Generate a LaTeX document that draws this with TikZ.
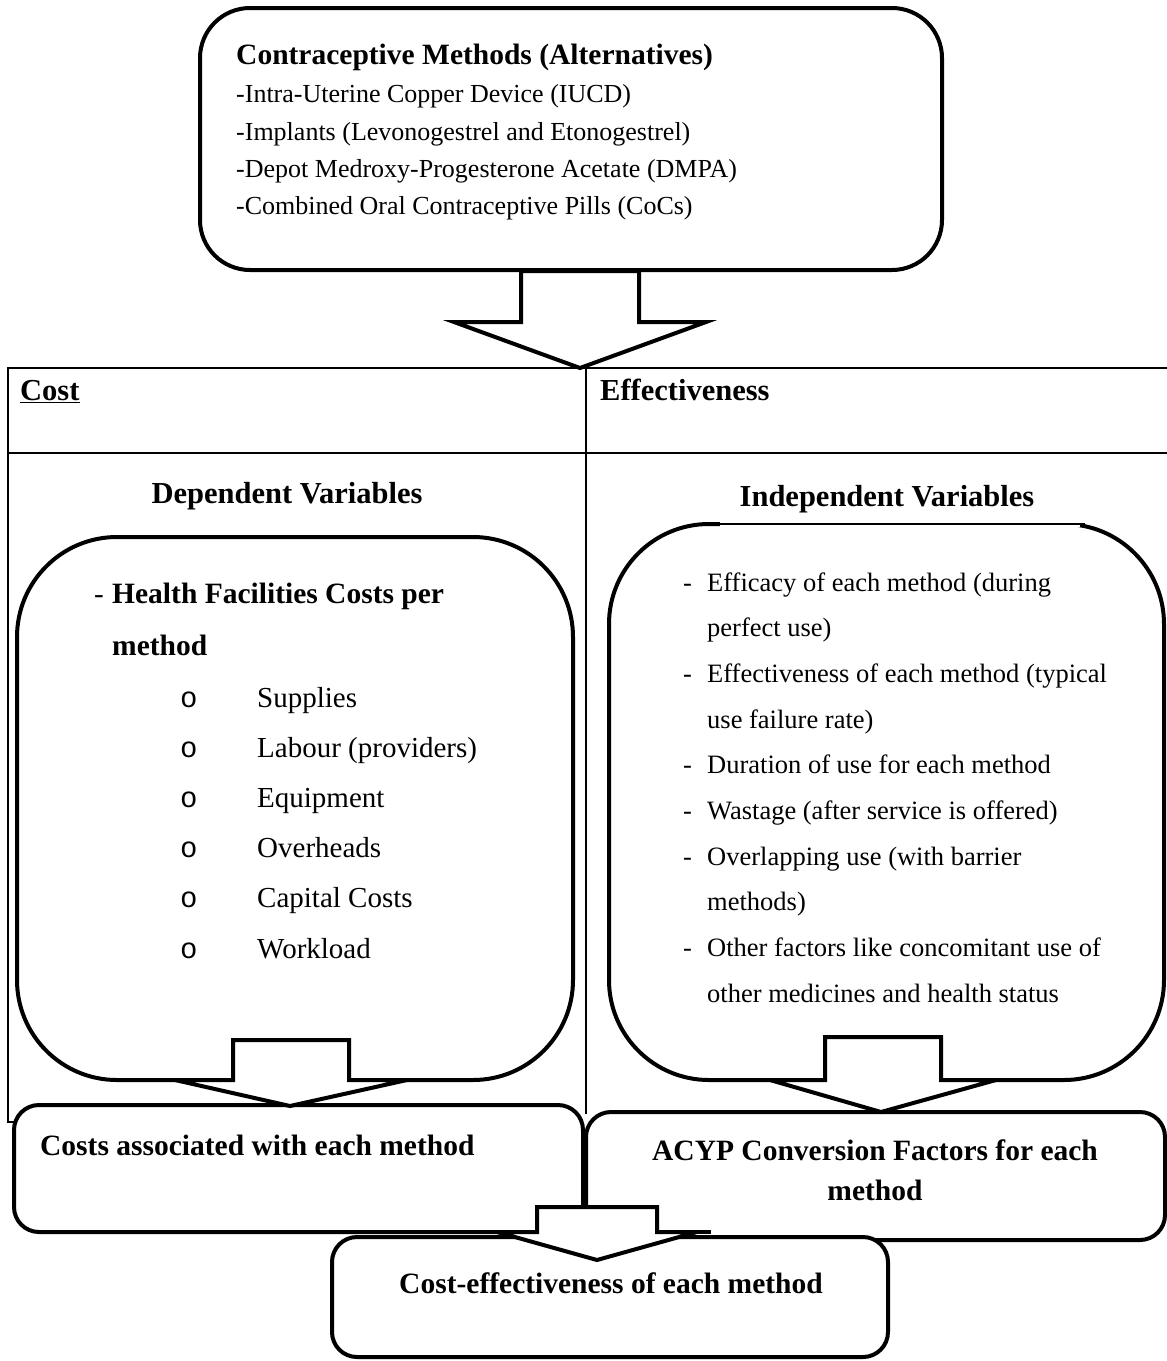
\documentclass[tikz,border=0pt]{standalone}
\usepackage{fontspec}
\setmainfont{Liberation Serif}
\newfontfamily\bulletfont{Liberation Mono}
\newcommand\blockarrow[7]{% cx, ytop, yshoulder, ytip, shaft half, wing half, tipx
  \draw[blk] (#1-#5,#2) -- (#1+#5,#2) -- (#1+#5,#3) -- (#1+#6,#3) -- (#7,#4)
    -- (#1-#6,#3) -- (#1-#5,#3) -- cycle;}
\begin{document}
\begin{tikzpicture}[x=1pt,y=-1pt,
  rbox/.style={draw=black, line width=4pt, fill=white, rounded corners=#1, inner sep=0pt},
  tline/.style={draw=black, line width=2pt},
  blk/.style={draw=black, line width=4pt, fill=white, line join=miter},
  txt/.style={inner sep=0pt, anchor=base west},
  ctxt/.style={inner sep=0pt, anchor=base},
  bigbold/.style={font=\fontsize{29.5}{35}\selectfont\bfseries},
  headbold/.style={font=\fontsize{30.5}{36}\selectfont\bfseries},
  listtop/.style={font=\fontsize{26}{31}\selectfont},
  listleft/.style={font=\fontsize{29}{34}\selectfont},
  listright/.style={font=\fontsize{26.5}{31}\selectfont}
]
\useasboundingbox[fill=white] (0,0) rectangle (1167,1361);

% table
\draw[tline] (8,368) -- (1167,368);
\draw[tline] (8,453) -- (1167,453);
\draw[tline] (8,367) -- (8,1122) -- (20,1122);
\draw[tline] (586,367) -- (586,1114);

% top box
\node[rbox=50pt, minimum width=742pt, minimum height=262pt] (methods) at (571,139) {};
\node[txt, bigbold] (mtitle) at (236,64) {Contraceptive Methods (Alternatives)};
\node[txt, listtop] (m1) at (236,102) {-Intra-Uterine Copper Device (IUCD)};
\node[txt, listtop] (m2) at (236,140) {-Implants (Levonogestrel and Etonogestrel)};
\node[txt, listtop] (m3) at (236,177) {-Depot Medroxy-Progesterone Acetate (DMPA)};
\node[txt, listtop] (m4) at (236,214) {-Combined Oral Contraceptive Pills (CoCs)};

\blockarrow{580}{271}{322}{368}{59}{126}{580}

% column headings
\node[txt, headbold] (cost) at (20,400) {\underline{Cost}};
\node[txt, headbold] (eff) at (600,400) {Effectiveness};
\node[ctxt, headbold] (dep) at (287,503) {Dependent Variables};
\node[ctxt, headbold] (indep) at (887,506) {Independent Variables};

% dependent box
\node[rbox=100pt, minimum width=556pt, minimum height=543pt] (depbox) at (295,808.5) {};
\node[txt, listleft] (dd) at (94,603) {-};
\node[txt, bigbold] (d0) at (112,603) {Health Facilities Costs per};
\node[txt, bigbold] (d0b) at (112,655) {method};
\foreach \t [count=\i from 0] in {Supplies,Labour (providers),Equipment,Overheads,Capital Costs,Workload}{
  \node[txt, listleft] (db\i) at (180,707+50.2*\i) {\bulletfont o};
  \node[txt, listleft] (di\i) at (257,707+50.2*\i) {\t};
}

% independent box
\node[rbox=100pt, minimum width=555pt, minimum height=556pt] (indbox) at (886.5,802) {};
\draw[white, line width=5pt] (720,524) -- (1080,524);
\draw[black, line width=2pt] (715,524) -- (1085,524);
\foreach \k in {0,2,4,5,6,8}{
  \node[txt, listright] (rd\k) at (683,591+45.7*\k) {-};
}
\node[txt, listright] (r0) at (707,591) {Efficacy of each method (during};
\node[txt, listright] (r1) at (707,591+45.7) {perfect use)};
\node[txt, listright] (r2) at (707,591+45.7*2) {Effectiveness of each method (typical};
\node[txt, listright] (r3) at (707,591+45.7*3) {use failure rate)};
\node[txt, listright] (r4) at (707,591+45.7*4) {Duration of use for each method};
\node[txt, listright] (r5) at (707,591+45.7*5) {Wastage (after service is offered)};
\node[txt, listright] (r6) at (707,591+45.7*6) {Overlapping use (with barrier};
\node[txt, listright] (r7) at (707,591+45.7*7) {methods)};
\node[txt, listright] (r8) at (707,591+45.7*8) {Other factors like concomitant use of};
\node[txt, listright] (r9) at (707,591+45.7*9) {other medicines and health status};

% bottom boxes
\node[rbox=25pt, minimum width=569pt, minimum height=127pt] (costbox) at (298.5,1168.5) {};
\node[txt, bigbold] (costt) at (40,1155) {Costs associated with each method};
\node[rbox=25pt, minimum width=579pt, minimum height=128pt] (acypbox) at (875.5,1176) {};
\node[ctxt, bigbold] (acyp1) at (875,1160) {ACYP Conversion Factors for each};
\node[ctxt, bigbold] (acyp2) at (875,1200) {method};

\blockarrow{291}{1040}{1080}{1106}{58}{116}{290}
\blockarrow{883}{1037}{1080}{1112}{58}{113}{881}

\node[rbox=25pt, minimum width=556pt, minimum height=120pt] (cebox) at (610,1297) {};
\node[ctxt, bigbold] (cet) at (611,1293) {Cost-effectiveness of each method};

\blockarrow{597}{1207}{1232}{1260}{60}{100}{597}
\draw[line width=4pt] (690,1232) -- (711,1232);
\end{tikzpicture}
\end{document}
